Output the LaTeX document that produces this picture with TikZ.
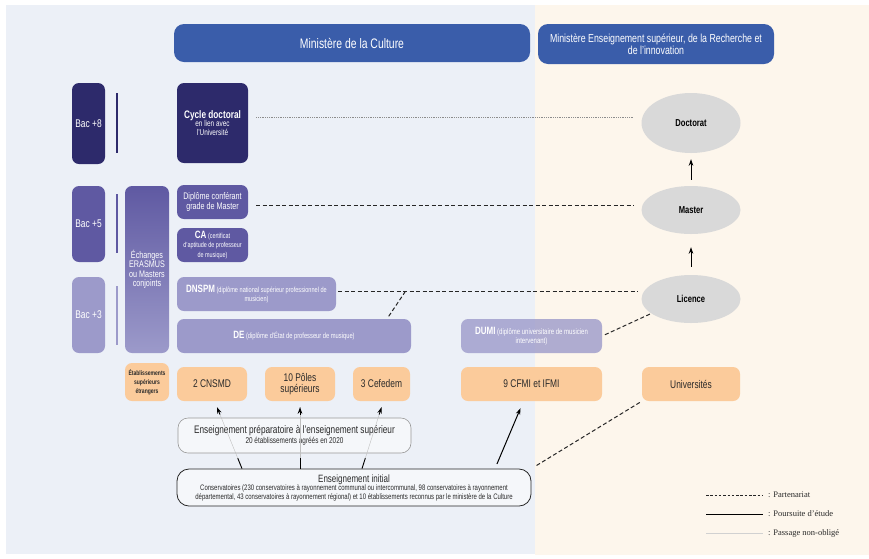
\documentclass[tikz,border=0pt]{standalone}
\usepackage{fontspec}
\setmainfont{Liberation Sans}[FakeStretch=0.755]
\newfontfamily\legendfont{Liberation Serif}
\usetikzlibrary{shapes.geometric,arrows.meta,calc}
\definecolor{cBgL}{HTML}{ECF0F7}
\definecolor{cBgR}{HTML}{FDF6EC}
\definecolor{cBlue}{HTML}{3A5DAA}
\definecolor{cNavy}{HTML}{2D2A6B}
\definecolor{cMid}{HTML}{5F59A2}
\definecolor{cLight}{HTML}{9C9ACA}
\definecolor{cOrange}{HTML}{FBCB9B}
\definecolor{cGray}{HTML}{D9D9D9}
\definecolor{cText}{HTML}{2A2A2A}
\definecolor{cBoxFill}{HTML}{F5F7FA}
\newcommand\myfs[2]{\fontsize{\fpeval{1.06*#1}}{\fpeval{1.06*#2}}\selectfont}
\newcommand\lgfs[2]{\fontsize{#1}{#2}\selectfont}
\begin{document}
\begin{tikzpicture}[x=1pt,y=-1pt,
  base/.style={rectangle, rounded corners=7pt, align=center, inner sep=1pt, text=white},
  lvl8/.style={base, fill=cNavy},
  lvl5/.style={base, fill=cMid},
  lvl3/.style={base, fill=cLight},
  orbox/.style={base, fill=cOrange, text=cText, font=\myfs{10.5}{11}},
  ell/.style={ellipse, fill=cGray, minimum width=99pt, inner sep=1pt, text=black, font=\bfseries\myfs{9.5}{10}},
  hdr/.style={base, rounded corners=10pt, fill=cBlue},
  sz/.style 2 args={minimum width=#1pt, minimum height=#2pt},
  partner/.style={dash pattern=on 4pt off 2.5pt, line width=1pt, black!85},
  pursue/.style={line width=0.9pt, black},
  passage/.style={line width=0.4pt, black!25},
  dotline/.style={dash pattern=on 0.8pt off 1pt, line width=0.5pt, black!45},
  tip/.style={-{Stealth[length=6.5pt,width=4.5pt]}},
  lvlline/.style={line width=1.3pt},
  legtext/.style={anchor=west, inner sep=0pt, text=cText, font=\legendfont\lgfs{8.5}{9}},
  textbox/.style={base, text=cText, fill=cBoxFill}
]
\useasboundingbox (0,0) rectangle (869,558);
% backgrounds
\fill[white] (0,0) rectangle (869,558);
\fill[cBgL] (6,5) rectangle (535,554);
\fill[cBgR] (535,5) rectangle (869,555);

% headers
\node[hdr, sz={356}{38}, font=\myfs{13}{15}] (mc) at (352,43) {Ministère de la Culture};
\node[hdr, sz={236}{40}, font=\myfs{11}{11.5}] (mesr) at (656,44) {Ministère Enseignement supérieur, de la Recherche et\\de l’innovation};

% levels
\node[lvl8, sz={33}{81}, font=\myfs{10.5}{12}] (b8) at (88.5,123.5) {Bac +8};
\node[lvl5, sz={33}{76}, font=\myfs{10.5}{12}] (b5) at (88.5,224) {Bac +5};
\node[lvl3, sz={33}{76}, font=\myfs{10.5}{12}] (b3) at (88.5,315) {Bac +3};
\draw[lvlline, cNavy] (117,93) -- (117,153);
\draw[lvlline, cMid] (117,194) -- (117,253);
\draw[lvlline, cLight] (117,286) -- (117,345);

% exchanges
\node[base, top color=cMid, bottom color=cLight, sz={44}{167}, font=\myfs{9}{9}] (ech) at (147,269.5) {Échanges\\ERASMUS\\ou Masters\\conjoints};
\node[orbox, sz={44}{38}, font=\bfseries\myfs{6.3}{8.5}] (etr) at (147,382) {Établissements\\supérieurs\\étrangers};

% culture diplomas
\node[lvl8, sz={71}{80}, font=\myfs{8}{8}] (cyc) at (212.5,123) {{\bfseries\myfs{10.3}{11}Cycle doctoral}\\en lien avec\\l’Université};
\node[lvl5, sz={71}{34}, font=\myfs{9}{9.5}] (dip) at (212.5,202) {Diplôme conférant\\grade de Master};
\node[lvl5, sz={71}{34}, font=\myfs{6.8}{9}] (ca) at (212.5,245) {{\bfseries\myfs{10}{10}CA} (certificat\\d’aptitude de professeur\\de musique)};
\node[lvl3, sz={159}{34}, font=\myfs{7}{9}] (dnspm) at (256.5,294) {{\bfseries\myfs{10}{10}DNSPM} (diplôme national supérieur professionnel de\\musicien)};
\node[lvl3, sz={234}{34}, font=\myfs{7.2}{9}] (de) at (294,336) {{\bfseries\myfs{10}{10}DE} (diplôme d’État de professeur de musique)};
\node[lvl3, fill opacity=0.8, text opacity=1, sz={141}{34}, font=\myfs{7.5}{9}] (dumi) at (531.5,336) {{\bfseries\myfs{10}{10}DUMI} (diplôme universitaire de musicien\\intervenant)};

% institutions
\node[orbox, sz={70}{34}] (cnsmd) at (212,384) {2 CNSMD};
\node[orbox, sz={70}{34}] (poles) at (300,384) {10 Pôles\\supérieurs};
\node[orbox, sz={57}{34}] (cef) at (381.5,384) {3 Cefedem};
\node[orbox, sz={141}{34}] (cfmi) at (531.5,384) {9 CFMI et IFMI};
\node[orbox, sz={98}{34}] (univ) at (691,384) {Universités};

% university degrees
\node[ell, minimum height=60pt] (doc) at (691,123) {Doctorat};
\node[ell, minimum height=48pt] (mas) at (691,210) {Master};
\node[ell, minimum height=48pt] (lic) at (691,299) {Licence};

% preparatory and initial
\node[textbox, draw=black!40, line width=0.6pt, rounded corners=10pt, sz={233}{35}, font=\myfs{8}{9}] (prep) at (294.5,435.5) {{\myfs{10.3}{11}Enseignement préparatoire à l’enseignement supérieur}\\20 établissements agréés en 2020};
\node[textbox, draw=black!85, line width=0.8pt, rounded corners=12pt, sz={354}{37}, font=\myfs{7.5}{8}] (ini) at (354,487.5) {{\myfs{10}{11}Enseignement initial}\\Conservatoires (230 conservatoires à rayonnement communal ou intercommunal, 98 conservatoires à rayonnement\\départemental, 43 conservatoires à rayonnement régional) et 10 établissements reconnus par le ministère de la Culture};

% partnerships
\draw[dotline, shorten <=8pt, shorten >=8pt] ([yshift=6pt]cyc.east) -- ([yshift=6pt]doc.west);
\draw[partner, shorten <=8pt, shorten >=8pt] ([yshift=-3pt]dip.east) -- ([yshift=5pt]mas.west);
\draw[partner, shorten <=2pt, shorten >=4pt] ([yshift=3pt]dnspm.east) -- ([yshift=8pt]lic.west);
\coordinate (dj) at (405,292);
\draw[partner, shorten <=3pt] ([xshift=93pt]de.north) -- (dj);
\draw[partner, shorten <=3pt, shorten >=1pt] (dumi.east) -- (lic.200);
\draw[partner, shorten <=6pt, shorten >=2pt] (ini.north east) -- (univ.south west);

% pursuit arrows
\draw[pursue, tip, shorten <=6pt, shorten >=6pt] (mas.north) -- (doc.south);
\draw[pursue, tip, shorten <=8pt, shorten >=13pt] (lic.north) -- (mas.south);

\coordinate (s1) at ([xshift=-112pt]ini.north);
\coordinate (t1) at ([xshift=5pt,yshift=-6pt]cnsmd.south);
\coordinate (s2) at ([xshift=-54pt]ini.north);
\coordinate (t2) at ([yshift=-6pt]poles.south);
\coordinate (s3) at ([xshift=8pt]ini.north);
\coordinate (t3) at ([yshift=-6pt]cef.south);
\foreach \i in {1,2,3}{
  \draw[passage] (s\i) -- (t\i);
  \draw[pursue] (s\i) -- ($(s\i)!0.17!(t\i)$);
  \draw[pursue, tip] ($(s\i)!0.88!(t\i)$) -- (t\i);
}
\draw[pursue, line width=1pt, tip, shorten <=5pt] ([xshift=141pt]ini.north) -- ([xshift=-11pt,yshift=-7pt]cfmi.south);

% legend
\coordinate (la1) at (706,495); \coordinate (lb1) at (763,495);
\coordinate (la2) at (706,514); \coordinate (lb2) at (763,514);
\coordinate (la3) at (706,533); \coordinate (lb3) at (763,533);
\draw[dash pattern=on 2.5pt off 1.8pt, line width=0.6pt, black!85] (la1) -- (lb1);
\draw[pursue] (la2) -- (lb2);
\draw[line width=0.5pt, black!18] (la3) -- (lb3);
\node[legtext] (lt1) at (768,495) {: Partenariat};
\node[legtext] (lt2) at (768,514) {: Poursuite d’étude};
\node[legtext] (lt3) at (768,533) {: Passage non-obligé};
\end{tikzpicture}
\end{document}
